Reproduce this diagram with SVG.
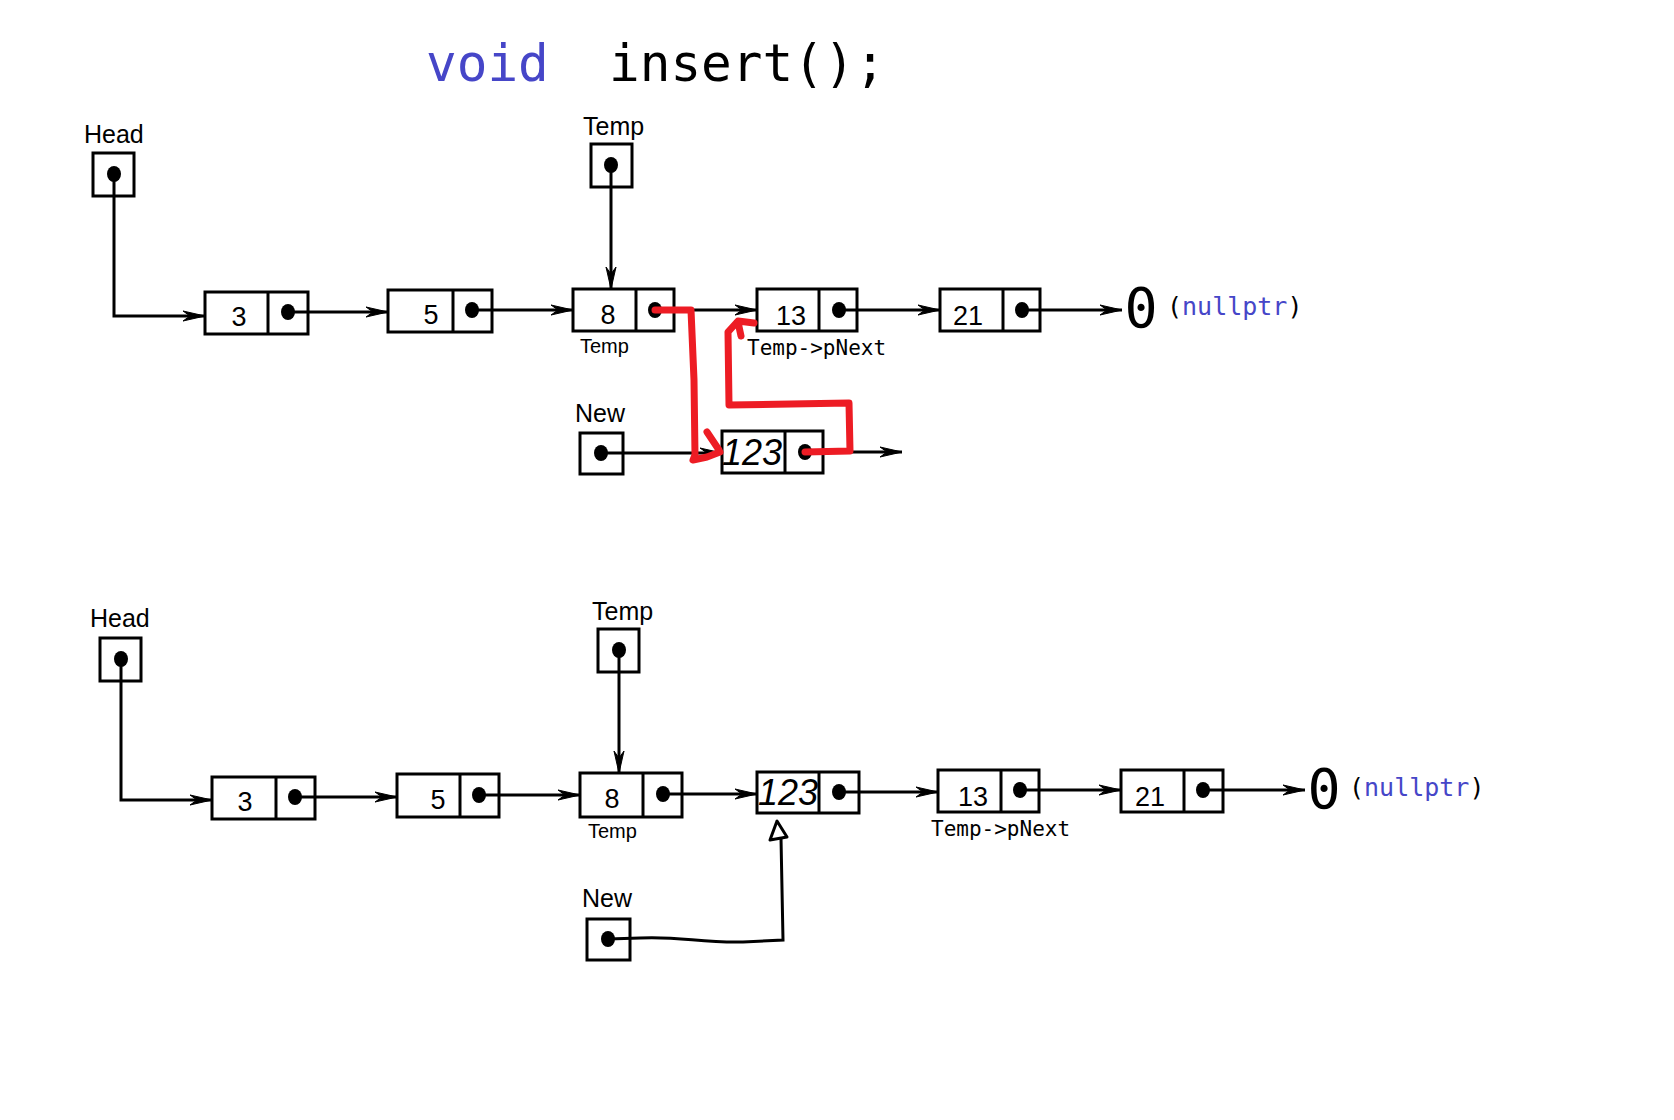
<svg xmlns="http://www.w3.org/2000/svg" width="1674" height="1120" viewBox="0 0 1674 1120">
<style>
.box{fill:#fff;stroke:#000;stroke-width:3}
.div{stroke:#000;stroke-width:3}
.dot{fill:#000}
.conn{fill:none;stroke:#000;stroke-width:3}
.red{fill:none;stroke:#ed1c24;stroke-width:7;stroke-linecap:round;stroke-linejoin:round}
.lbl{font-family:"Liberation Sans",Arial,sans-serif;font-size:25px;fill:#000}
.small{font-family:"Liberation Sans",Arial,sans-serif;font-size:20px;fill:#000}
.mono{font-family:"DejaVu Sans Mono","Liberation Mono",monospace;fill:#000}
.val{font-family:"Liberation Sans",Arial,sans-serif;font-size:27px;fill:#000;text-anchor:middle}
.hand{font-family:"Liberation Sans",Arial,sans-serif;font-size:36px;fill:#000;text-anchor:middle;font-style:italic}
.blue{fill:#4646c8}
</style>
<defs>
<marker id="arr" viewBox="-24 -7 26 14" markerWidth="26" markerHeight="14" refX="0" refY="0" orient="auto" markerUnits="userSpaceOnUse">
<path d="M-22,-5 L0,0 L-22,5 L-15,0 Z" fill="#000" stroke="#000" stroke-width="1"/>
</marker>
</defs>
<rect width="1674" height="1120" fill="#fff"/>

<g id="title">
<text x="426" y="81" class="mono blue" font-size="51">void</text>
<text x="609" y="81" class="mono" font-size="51">insert();</text>
</g>

<g id="head1">
<text x="84" y="143" class="lbl">Head</text>
<rect class="box" x="93" y="153" width="41" height="43"/>
<ellipse class="dot" cx="114" cy="174" rx="7" ry="8"/>
</g>
<g id="temp1">
<text x="583" y="135" class="lbl">Temp</text>
<rect class="box" x="591" y="144" width="41" height="43"/>
<ellipse class="dot" cx="611" cy="165" rx="7" ry="8"/>
</g>
<g id="n3a">
<rect class="box" x="205" y="292" width="103" height="42"/>
<line class="div" x1="268" y1="292" x2="268" y2="334"/>
<text x="239" y="326" class="val">3</text>
<ellipse class="dot" cx="288" cy="312" rx="7" ry="8"/>
</g>
<g id="n5a">
<rect class="box" x="388" y="290" width="104" height="42"/>
<line class="div" x1="453" y1="290" x2="453" y2="332"/>
<text x="431" y="324" class="val">5</text>
<ellipse class="dot" cx="472" cy="310" rx="7" ry="8"/>
</g>
<g id="n8a">
<rect class="box" x="573" y="289" width="101" height="42"/>
<line class="div" x1="636" y1="289" x2="636" y2="331"/>
<text x="608" y="324" class="val">8</text>
<ellipse class="dot" cx="655" cy="310" rx="7" ry="8"/>
<text x="580" y="353" class="small">Temp</text>
</g>
<g id="n13a">
<rect class="box" x="757" y="289" width="100" height="42"/>
<line class="div" x1="819" y1="289" x2="819" y2="331"/>
<text x="791" y="325" class="val">13</text>
<ellipse class="dot" cx="839" cy="310" rx="7" ry="8"/>
<text x="747" y="355" class="mono" font-size="21">Temp-&gt;pNext</text>
</g>
<g id="n21a">
<rect class="box" x="940" y="289" width="100" height="42"/>
<line class="div" x1="1003" y1="289" x2="1003" y2="331"/>
<text x="968" y="325" class="val">21</text>
<ellipse class="dot" cx="1022" cy="310" rx="7" ry="8"/>
</g>
<g id="null1">
<text x="1141" y="327" class="mono" font-size="55" text-anchor="middle">0</text>
<text x="1167" y="315" class="mono" font-size="25">(<tspan class="blue">nullptr</tspan>)</text>
</g>
<g id="new1">
<text x="575" y="422" class="lbl">New</text>
<rect class="box" x="580" y="433" width="43" height="41"/>
<ellipse class="dot" cx="601" cy="453" rx="7" ry="8"/>
</g>
<g id="n123a">
<rect class="box" x="722" y="431" width="101" height="42"/>
<line class="div" x1="785" y1="431" x2="785" y2="473"/>
<text x="752" y="465" class="hand">123</text>
<ellipse class="dot" cx="805" cy="452" rx="7" ry="8"/>
</g>

<g id="head2">
<text x="90" y="627" class="lbl">Head</text>
<rect class="box" x="100" y="638" width="41" height="43"/>
<ellipse class="dot" cx="121" cy="659" rx="7" ry="8"/>
</g>
<g id="temp2">
<text x="592" y="620" class="lbl">Temp</text>
<rect class="box" x="598" y="629" width="41" height="43"/>
<ellipse class="dot" cx="619" cy="650" rx="7" ry="8"/>
</g>
<g id="n3b">
<rect class="box" x="212" y="777" width="103" height="42"/>
<line class="div" x1="276" y1="777" x2="276" y2="819"/>
<text x="245" y="811" class="val">3</text>
<ellipse class="dot" cx="295" cy="797" rx="7" ry="8"/>
</g>
<g id="n5b">
<rect class="box" x="397" y="774" width="102" height="43"/>
<line class="div" x1="460" y1="774" x2="460" y2="817"/>
<text x="438" y="809" class="val">5</text>
<ellipse class="dot" cx="479" cy="795" rx="7" ry="8"/>
</g>
<g id="n8b">
<rect class="box" x="580" y="773" width="102" height="44"/>
<line class="div" x1="643" y1="773" x2="643" y2="817"/>
<text x="612" y="808" class="val">8</text>
<ellipse class="dot" cx="663" cy="794" rx="7" ry="8"/>
<text x="588" y="838" class="small">Temp</text>
</g>
<g id="n123b">
<rect class="box" x="757" y="772" width="102" height="41"/>
<line class="div" x1="819" y1="772" x2="819" y2="813"/>
<text x="788" y="805" class="hand">123</text>
<ellipse class="dot" cx="839" cy="792" rx="7" ry="8"/>
</g>
<g id="n13b">
<rect class="box" x="938" y="770" width="101" height="42"/>
<line class="div" x1="1001" y1="770" x2="1001" y2="812"/>
<text x="973" y="806" class="val">13</text>
<ellipse class="dot" cx="1020" cy="790" rx="7" ry="8"/>
<text x="931" y="836" class="mono" font-size="21">Temp-&gt;pNext</text>
</g>
<g id="n21b">
<rect class="box" x="1121" y="770" width="102" height="42"/>
<line class="div" x1="1184" y1="770" x2="1184" y2="812"/>
<text x="1150" y="806" class="val">21</text>
<ellipse class="dot" cx="1203" cy="790" rx="7" ry="8"/>
</g>
<g id="null2">
<text x="1324" y="808" class="mono" font-size="55" text-anchor="middle">0</text>
<text x="1349" y="796" class="mono" font-size="25">(<tspan class="blue">nullptr</tspan>)</text>
</g>
<g id="new2">
<text x="582" y="907" class="lbl">New</text>
<rect class="box" x="587" y="919" width="43" height="41"/>
<ellipse class="dot" cx="608" cy="939" rx="7" ry="8"/>
</g>

<g id="connectors">
<path class="conn" d="M114,174 V316 H205" marker-end="url(#arr)"/>
<path class="conn" d="M611,165 V289" marker-end="url(#arr)"/>
<path class="conn" d="M288,312 H388" marker-end="url(#arr)"/>
<path class="conn" d="M472,310 H573" marker-end="url(#arr)"/>
<path class="conn" d="M655,310 H757" marker-end="url(#arr)"/>
<path class="conn" d="M839,310 H940" marker-end="url(#arr)"/>
<path class="conn" d="M1022,310 H1122" marker-end="url(#arr)"/>
<path class="conn" d="M601,453 H722" marker-end="url(#arr)"/>
<path class="conn" d="M805,452 H902" marker-end="url(#arr)"/>
<path class="red" d="M655,310 L691,310 L694,380 L695,455 L693,460 L707,457 L720,452 M707,432 L719,450"/>
<path class="red" d="M805,452 L850,451 L849,403 L729,405 L728,332 L738,321 L754,323 M738,322 L741,336"/>

<path class="conn" d="M121,659 V800 H212" marker-end="url(#arr)"/>
<path class="conn" d="M619,650 V773" marker-end="url(#arr)"/>
<path class="conn" d="M295,797 H397" marker-end="url(#arr)"/>
<path class="conn" d="M479,795 H580" marker-end="url(#arr)"/>
<path class="conn" d="M663,794 H757" marker-end="url(#arr)"/>
<path class="conn" d="M839,792 H938" marker-end="url(#arr)"/>
<path class="conn" d="M1020,790 H1121" marker-end="url(#arr)"/>
<path class="conn" d="M1203,790 H1305" marker-end="url(#arr)"/>
<path class="conn" d="M608,939 L640,938 C680,936 700,943 743,942 L783,940 L781,838"/>
<polygon points="777,821 770,840 787,837" fill="#fff" stroke="#000" stroke-width="3" stroke-linejoin="round"/>
</g>
</svg>
